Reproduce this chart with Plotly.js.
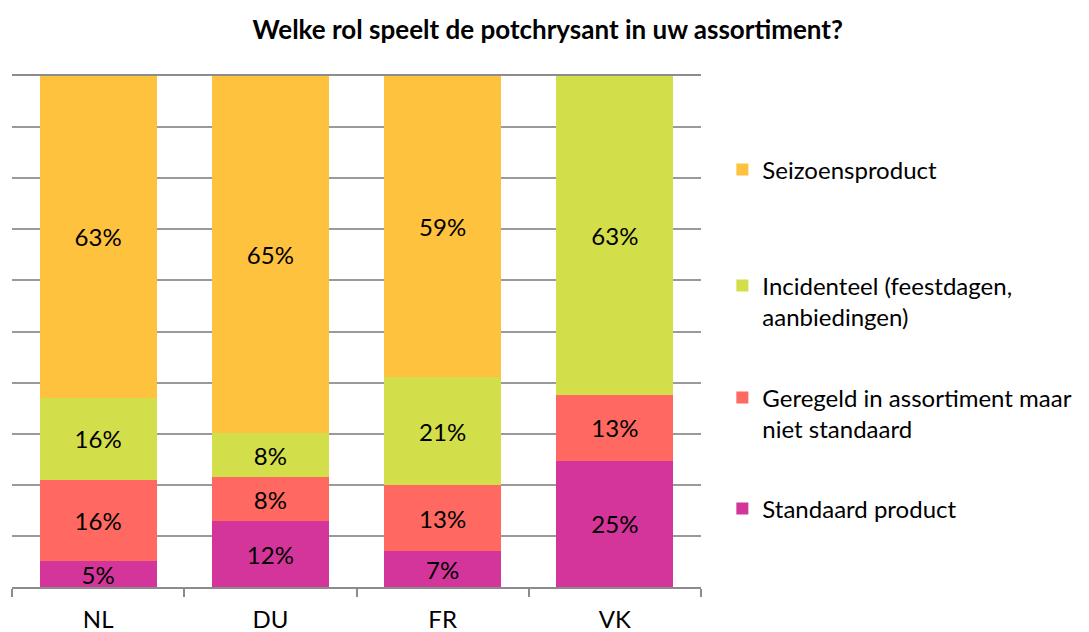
<!DOCTYPE html>
<html>
<head>
<meta charset="utf-8">
<script src="https://cdn.plot.ly/plotly-3.0.1.min.js"></script>
<style>html,body{margin:0;padding:0;background:#fff;}#chart{width:1089px;height:632px;}</style>
</head>
<body>
<div id="chart"></div>
<script>
const categories = ['NL', 'DU', 'FR', 'VK'];
const seriesNames = ['Standaard product', 'Geregeld in assortiment maar<br>niet standaard', 'Incidenteel (feestdagen,<br>aanbiedingen)', 'Seizoensproduct'];
const standaard = [5, 12, 7, 25];
const geregeld = [16, 8, 13, 13];
const incidenteel = [16, 8, 21, 63];
const seizoen = [63, 65, 59, null];
const colors = ['#D4359B', '#FF6961', '#D3DF4A', '#FFC23F'];

const FONT = 'Lato, "Open Sans", sans-serif';
const seriesValues = [standaard, geregeld, incidenteel, seizoen];
const legendIds = ['legend4', 'legend3', 'legend2', 'legend'];

const traces = seriesValues.map((vals, i) => ({
  type: 'bar',
  name: seriesNames[i],
  x: categories,
  y: vals,
  text: vals.map(v => v == null ? '' : v + '%'),
  textposition: 'inside',
  insidetextanchor: 'middle',
  constraintext: 'none',
  textangle: 0,
  textfont: {family: FONT, size: 24, color: '#000'},
  marker: {color: colors[i], line: {width: 0}},
  legend: legendIds[i],
  hoverinfo: 'x+y+name'
}));

function leg(y, valign) {
  return {
    x: 1.031, xanchor: 'left', y: y, yanchor: 'middle',
    bgcolor: 'rgba(0,0,0,0)', borderwidth: 0,
    font: {family: FONT, size: 24, color: '#000'},
    valign: valign
  };
}

const layout = {
  width: 1089, height: 632,
  margin: {l: 12, r: 386, t: 76, b: 45},
  paper_bgcolor: '#fff', plot_bgcolor: '#fff',
  barmode: 'stack', barnorm: 'percent', bargap: 0.32,
  title: {text: '<b>Welke rol speelt de potchrysant in uw assortiment?</b>', x: 0.503, xref: 'container', xanchor: 'center', y: 0.952, yref: 'container', yanchor: 'middle', font: {family: FONT, size: 26, color: '#000'}},
  showlegend: true,
  legend: leg(0.816, 'top'),
  legend2: leg(0.5587, 'top'),
  legend3: leg(0.3395, 'top'),
  legend4: leg(0.1526, 'top'),
  xaxis: {
    showline: true, mirror: true, linecolor: '#8c8c8c', linewidth: 2,
    ticks: 'outside', tickson: 'boundaries', ticklen: 8, tickwidth: 2, tickcolor: '#8c8c8c',
    tickfont: {family: FONT, size: 24, color: '#000'},
    ticklabelstandoff: 10,
    showgrid: false, zeroline: false
  },
  yaxis: {
    range: [0, 100], dtick: 10, showgrid: true, gridcolor: '#9a9a9a', gridwidth: 2,
    showticklabels: false, zeroline: false, showline: false, ticks: ''
  }
};

Plotly.newPlot('chart', traces, layout, {displayModeBar: false, staticPlot: true});
</script>
</body>
</html>
